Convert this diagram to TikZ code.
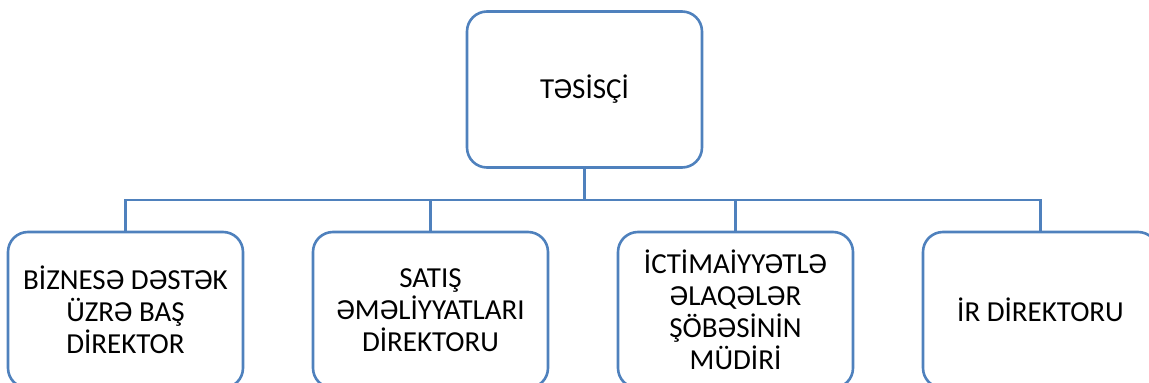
\documentclass[tikz,border=0pt]{standalone}
\usepackage{fontspec}
\setmainfont{Carlito}
\definecolor{boxblue}{HTML}{4F81BD}
\tikzset{
  orgbox/.style={draw=boxblue, line width=2.6pt, rounded corners=20pt, minimum width=235pt, minimum height=156pt, align=center, font=\fontsize{29}{32}\selectfont, text=black, inner sep=0pt},
  link/.style={draw=boxblue, line width=2.6pt}
}
\begin{document}
\begin{tikzpicture}[x=1pt,y=-1pt]
\useasboundingbox (0,0) rectangle (1149,383);
\clip (0,0) rectangle (1149,383);
\node[orgbox] (top) at (584.5,89.5) {TƏSİSÇİ};
\node[orgbox] (b1) at (125.5,310) {BİZNESƏ DƏSTƏK\\ÜZRƏ BAŞ\\DİREKTOR};
\node[orgbox] (b2) at (430.5,310) {SATIŞ\\ƏMƏLİYYATLARI\\DİREKTORU};
\node[orgbox] (b3) at (735.5,310) {İCTİMAİYYƏTLƏ\\ƏLAQƏLƏR\\ŞÖBƏSİNİN\\MÜDİRİ};
\node[orgbox] (b4) at (1040.5,310) {İR DİREKTORU};
\coordinate (bus) at (584.5,200);
\draw[link] (top.south) -- (bus);
\draw[link] (b1.north) |- (bus);
\draw[link] (b2.north) |- (bus);
\draw[link] (b3.north) |- (bus);
\draw[link] (b4.north) |- (bus);
\end{tikzpicture}
\end{document}
